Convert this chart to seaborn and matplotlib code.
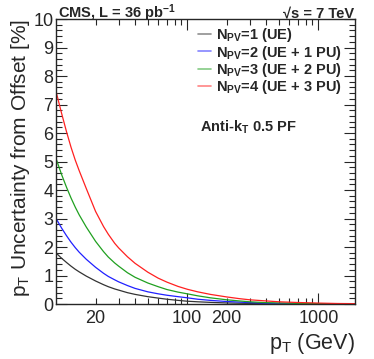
import numpy as np
import pandas as pd
import matplotlib
matplotlib.use("Agg")
import matplotlib.pyplot as plt
import matplotlib.ticker as mticker
import seaborn as sns

# values
PT = [10, 11, 12, 13, 14, 15, 17, 20, 23, 25, 28, 30, 35, 40, 50, 60, 70, 85,
      100, 120, 150, 200, 250, 300, 400, 500, 700, 1000, 1400, 1900]
UNC_NPV1 = [1.79, 1.61, 1.46, 1.33, 1.22, 1.13, 0.98, 0.81, 0.68, 0.61, 0.53, 0.49,
            0.40, 0.34, 0.26, 0.21, 0.17, 0.13, 0.10, 0.08, 0.06, 0.04, 0.03, 0.025,
            0.015, 0.01, 0.007, 0.005, 0.003, 0.0]
UNC_NPV2 = [3.00, 2.67, 2.40, 2.17, 1.98, 1.82, 1.57, 1.29, 1.08, 0.97, 0.85, 0.78,
            0.65, 0.55, 0.43, 0.36, 0.31, 0.26, 0.22, 0.17, 0.13, 0.09, 0.07, 0.05,
            0.03, 0.02, 0.015, 0.01, 0.005, 0.0]
UNC_NPV3 = [5.10, 4.55, 4.10, 3.72, 3.40, 3.13, 2.70, 2.20, 1.84, 1.65, 1.44, 1.33,
            1.10, 0.94, 0.74, 0.61, 0.51, 0.42, 0.36, 0.29, 0.22, 0.15, 0.11, 0.08,
            0.05, 0.04, 0.025, 0.015, 0.01, 0.005]
UNC_NPV4 = [7.45, 6.70, 6.05, 5.50, 5.05, 4.68, 4.05, 3.25, 2.72, 2.45, 2.13, 1.97,
            1.66, 1.43, 1.12, 0.91, 0.77, 0.62, 0.52, 0.43, 0.34, 0.25, 0.19, 0.15,
            0.11, 0.08, 0.055, 0.035, 0.02, 0.015]

LABELS = [r"$\mathbf{N_{PV}}$=1 (UE)",
          r"$\mathbf{N_{PV}}$=2 (UE + 1 PU)",
          r"$\mathbf{N_{PV}}$=3 (UE + 2 PU)",
          r"$\mathbf{N_{PV}}$=4 (UE + 3 PU)"]
COLORS = ["#333333", "#2020ff", "#20a020", "#ff2020"]
XTICK_LABELS = [20, 100, 200, 1000]

rows = []
for lab, vals in zip(LABELS, [UNC_NPV1, UNC_NPV2, UNC_NPV3, UNC_NPV4]):
    for p, v in zip(PT, vals):
        rows.append({"pt": p, "unc": v, "series": lab})
df = pd.DataFrame(rows)

sns.set_style("ticks")
plt.rcParams["font.family"] = ["Liberation Sans", "DejaVu Sans"]
plt.rcParams["mathtext.fontset"] = "custom"
plt.rcParams["mathtext.rm"] = "Liberation Sans"
plt.rcParams["mathtext.bf"] = "Liberation Sans:bold"
plt.rcParams["mathtext.it"] = "Liberation Sans"

fig = plt.figure(figsize=(3.74, 3.59), dpi=100)
ax = fig.add_axes([0.150, 0.153, 0.799, 0.794])

sns.lineplot(data=df, x="pt", y="unc", hue="series", hue_order=LABELS,
             palette=dict(zip(LABELS, COLORS)), lw=0.9, ax=ax, legend=True)

ax.set_xscale("log")
ax.set_xlim(10, 1900)
ax.set_ylim(0, 10)

ax.xaxis.set_major_locator(mticker.FixedLocator([100, 1000]))
ax.xaxis.set_minor_locator(mticker.FixedLocator(
    [20, 30, 40, 50, 60, 70, 80, 90, 200, 300, 400, 500, 600, 700, 800, 900]))
ax.xaxis.set_major_formatter(mticker.NullFormatter())
ax.xaxis.set_minor_formatter(mticker.NullFormatter())
for xv in XTICK_LABELS:
    ax.text(xv, -0.02, str(xv), ha="center", va="top", fontsize=13,
            transform=ax.get_xaxis_transform())

ax.yaxis.set_major_locator(mticker.MultipleLocator(1))
ax.yaxis.set_minor_locator(mticker.MultipleLocator(0.2))
ax.tick_params(axis="both", which="both", direction="in", top=True, right=True,
               width=0.8, labelsize=13)
ax.tick_params(axis="both", which="major", length=8)
ax.tick_params(axis="both", which="minor", length=4)
ax.tick_params(axis="y", pad=2)
for s in ax.spines.values():
    s.set_linewidth(1.0)

ax.set_xlabel(r"p$_{\mathrm{T}}$ (GeV)", fontsize=15.5, loc="right", labelpad=16)
ax.set_ylabel(r"p$_{\mathrm{T}}$ Uncertainty from Offset [%]", fontsize=15,
              loc="top", labelpad=1)

leg = ax.legend(loc="upper right", frameon=False, fontsize=10.5,
                handlelength=0.9, handletextpad=0.3, labelspacing=-0.05,
                borderaxespad=0.0, bbox_to_anchor=(0.975, 0.995))
for t in leg.get_texts():
    t.set_fontweight("bold")
for h in leg.legend_handles:
    h.set_alpha(0.55)
    h.set_linewidth(1.2)

ax.text(0.48, 0.62, r"Anti-k$_{\mathbf{T}}$ 0.5 PF", transform=ax.transAxes,
        fontsize=10.5, fontweight="bold", ha="left", va="center")
fig.text(0.155, 0.950, r"CMS, L = 36 pb$^{\mathbf{-1}}$", fontsize=10.5,
         fontweight="bold", ha="left", va="baseline")
fig.text(0.948, 0.950, "\u221as = 7 TeV", fontsize=10.5,
         fontweight="bold", ha="right", va="baseline")

plt.savefig("out.png", dpi=100)
plt.close()
